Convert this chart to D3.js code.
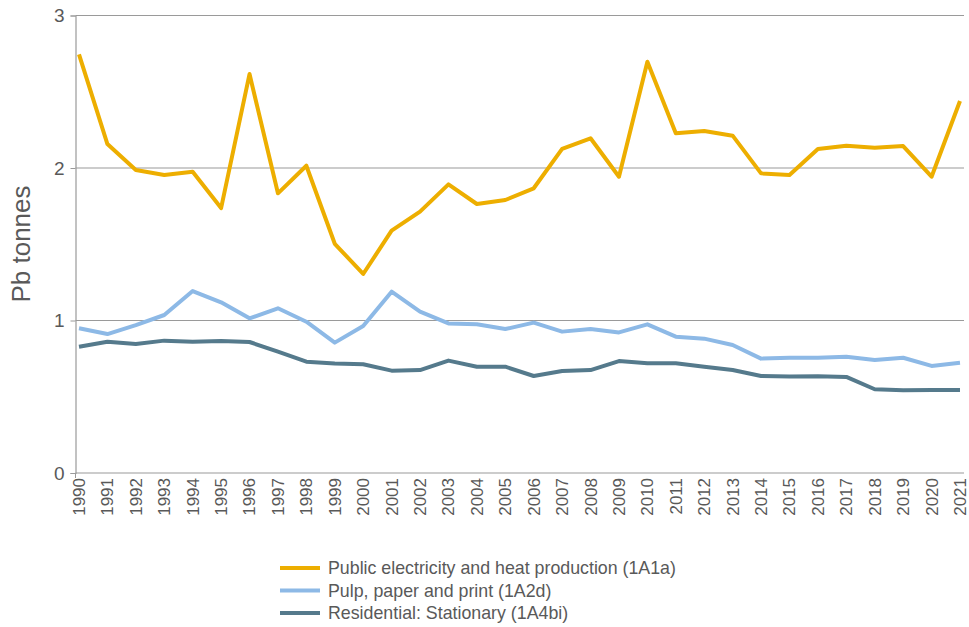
<!DOCTYPE html>
<html>
<head>
<meta charset="utf-8">
<script src="https://cdn.jsdelivr.net/npm/d3@7"></script>
<style>
  body { margin: 0; background: #fff; }
  #chart { width: 969px; height: 627px; }
  text { font-family: "Liberation Sans", Arial, sans-serif; fill: #595959; }
</style>
</head>
<body>
<div id="chart"></div>
<script>
//Datos
const years = ['1990','1991','1992','1993','1994','1995','1996','1997','1998','1999','2000','2001','2002','2003','2004','2005','2006','2007','2008','2009','2010','2011','2012','2013','2014','2015','2016','2017','2018','2019','2020','2021'];

const publicElectricity = [2.745, 2.157, 1.987, 1.954, 1.975, 1.737, 2.616, 1.834, 2.015, 1.503, 1.305, 1.589, 1.714, 1.893, 1.764, 1.790, 1.867, 2.125, 2.195, 1.943, 2.697, 2.228, 2.243, 2.212, 1.965, 1.954, 2.125, 2.146, 2.133, 2.144, 1.943, 2.439];
const pulpPaper = [0.949, 0.911, 0.970, 1.036, 1.193, 1.119, 1.014, 1.080, 0.992, 0.855, 0.964, 1.189, 1.058, 0.981, 0.975, 0.944, 0.986, 0.927, 0.944, 0.922, 0.975, 0.894, 0.881, 0.839, 0.750, 0.756, 0.756, 0.763, 0.741, 0.756, 0.702, 0.723];
const residential = [0.828, 0.861, 0.846, 0.868, 0.861, 0.865, 0.859, 0.796, 0.730, 0.718, 0.713, 0.671, 0.675, 0.737, 0.697, 0.697, 0.636, 0.669, 0.675, 0.734, 0.719, 0.719, 0.697, 0.675, 0.636, 0.632, 0.634, 0.630, 0.549, 0.542, 0.544, 0.544];

const seriesNames = ['Public electricity and heat production (1A1a)', 'Pulp, paper and print (1A2d)', 'Residential: Stationary (1A4bi)'];
const yTicks = [0, 1, 2, 3];

//Colores
const COLOR_1 = '#EDAE00',
COLOR_2 = '#8DB9E6',
COLOR_3 = '#557A8C';

let svg = d3.select('#chart')
    .append('svg')
      .attr('width', 969)
      .attr('height', 627);

let plot = {left: 75.5, right: 964, top: 15.5, bottom: 473};

let x = d3.scalePoint()
    .domain(years)
    .range([79, 960]);

let y = d3.scaleLinear()
    .domain([0, 3])
    .range([plot.bottom, plot.top]);

//Rejilla
svg.append('g')
    .selectAll('line')
    .data(yTicks)
    .enter()
    .append('line')
    .attr('x1', plot.left)
    .attr('x2', plot.right)
    .attr('y1', function(d) { return y(d); })
    .attr('y2', function(d) { return y(d); })
    .attr('stroke', '#9a9a9a')
    .attr('stroke-width', 1.2);

//Eje Y
let yAxis = svg.append('g')
    .attr('transform', 'translate(' + plot.left + ',0)')
    .call(d3.axisLeft(y).tickValues(yTicks).tickSize(5).tickPadding(6).tickFormat(d3.format('d')));
yAxis.select('.domain').attr('stroke', '#9a9a9a').attr('stroke-width', 1.2);
yAxis.selectAll('.tick line').attr('stroke', '#9a9a9a');
yAxis.selectAll('.tick text')
    .style('font-size', '19px')
    .style('font-family', '"Liberation Sans", Arial, sans-serif')
    .attr('fill', '#595959');

//Eje X
let xAxis = svg.append('g')
    .attr('transform', 'translate(0,' + plot.bottom + ')');
xAxis.append('line')
    .attr('x1', plot.left)
    .attr('x2', plot.left)
    .attr('y1', 0)
    .attr('y2', 5)
    .attr('stroke', '#9a9a9a');
xAxis.selectAll('text')
    .data(years)
    .enter()
    .append('text')
    .attr('transform', function(d) { return 'translate(' + x(d) + ',5) rotate(-90)'; })
    .attr('text-anchor', 'end')
    .attr('dy', '0.35em')
    .style('font-size', '17px')
    .text(function(d) { return d; });

//Título eje Y
svg.append('text')
    .attr('transform', 'translate(30,' + 244 + ') rotate(-90)')
    .attr('text-anchor', 'middle')
    .style('font-size', '26px')
    .text('Pb tonnes');

//Líneas
let allSeries = [publicElectricity, pulpPaper, residential];
let colors = [COLOR_1, COLOR_2, COLOR_3];

let line = d3.line()
    .x(function(d, i) { return x(years[i]); })
    .y(function(d) { return y(d); });

svg.append('g')
    .selectAll('path')
    .data(allSeries)
    .enter()
    .append('path')
    .attr('d', function(d) { return line(d); })
    .attr('fill', 'none')
    .attr('stroke', function(d, i) { return colors[i]; })
    .attr('stroke-width', 4)
    .attr('stroke-linejoin', 'round');

//Leyenda
let legend = svg.append('g')
    .selectAll('g')
    .data(seriesNames)
    .enter()
    .append('g')
    .attr('transform', function(d, i) { return 'translate(280,' + (568 + i * 22.5) + ')'; });

legend.append('line')
    .attr('x1', 0)
    .attr('x2', 40)
    .attr('stroke', function(d, i) { return colors[i]; })
    .attr('stroke-width', 4);

legend.append('text')
    .attr('x', 48)
    .attr('dy', '0.35em')
    .style('font-size', '17.8px')
    .text(function(d) { return d; });
</script>
</body>
</html>
